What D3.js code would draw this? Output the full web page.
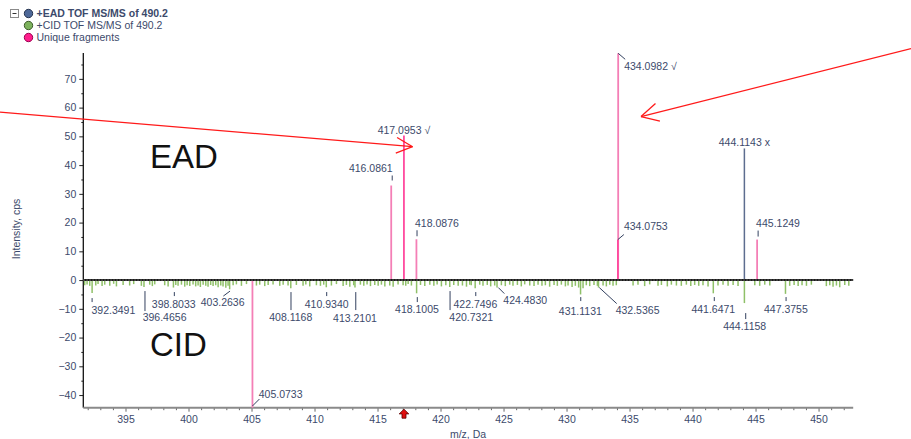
<!DOCTYPE html>
<html>
<head>
<meta charset="utf-8">
<script src="https://cdn.jsdelivr.net/npm/d3@7"></script>
<style>
  body { margin: 0; background: #fff; }
  svg { display: block; }
  text { font-family: "Liberation Sans", Arial, sans-serif; }
</style>
</head>
<body>
<svg id="chart" width="911" height="439"></svg>
<script>
// ---- Spectrum data: [m/z, intensity (cps)] ----
// EAD fragments present only in EAD (drawn upward)
const eadUniqueLight = [[416.0861, 32.9], [418.0876, 14.2], [434.0982, 78.9], [445.1249, 14.1]];
const eadUniqueDeep = [[417.0953, 50.3], [434.0753, 14.1]];
// EAD fragment shared with CID
const eadCommon = [[444.1143, 45.8]];
// CID unique fragment (drawn downward)
const cidUnique = [[405.0733, -44.4]];
// CID spectrum peaks (drawn downward)
const cidPeaks = [
  [391.76,-1.8],[391.95,-1.5],[392.16,-2.0],[392.3491,-4.5],[392.64,-1.9],[392.82,-1.4],[393.14,-2.1],[393.35,-1.6],
  [393.75,-2.0],[394.06,-1.3],[394.28,-2.2],[394.81,-1.7],[395.33,-1.9],[395.65,-1.4],[396.26,-2.0],[396.4656,-2.4],
  [396.92,-1.6],[397.13,-2.1],[397.32,-1.5],[398.11,-1.8],[398.38,-2.2],[398.8033,-2.6],[398.99,-1.7],[399.17,-2.0],
  [399.44,-1.6],[399.70,-2.3],[399.89,-1.8],[400.10,-2.1],[400.36,-1.5],[400.57,-2.2],[400.76,-1.9],[400.94,-2.4],
  [401.16,-1.6],[401.37,-2.0],[401.55,-2.3],[401.76,-1.7],[401.95,-2.1],[402.16,-1.8],[402.35,-2.5],[402.56,-1.9],
  [402.74,-2.2],[402.96,-2.7],[403.14,-2.0],[403.2636,-3.2],[403.54,-1.8],[403.80,-1.5],[404.20,-2.0],[404.60,-1.4],
  [405.39,-1.9],[405.65,-1.6],[406.05,-2.1],[406.32,-1.7],[406.71,-1.5],[407.24,-2.0],[407.51,-1.6],[407.90,-1.9],
  [408.1168,-2.8],[408.56,-1.7],[409.09,-2.0],[409.31,-1.5],[409.62,-2.2],[410.15,-1.8],[410.47,-2.0],[410.73,-1.6],
  [410.9340,-2.5],[411.34,-1.9],[411.74,-1.4],[412.27,-2.1],[412.53,-1.7],[412.80,-2.3],[413.11,-1.8],[413.2101,-2.6],
  [413.64,-1.6],[413.91,-2.0],[414.17,-1.5],[414.44,-2.1],[414.78,-1.7],[415.05,-2.0],[415.31,-1.6],[415.58,-2.2],
  [415.97,-1.9],[416.24,-2.3],[416.63,-1.5],[417.03,-1.8],[417.24,-2.0],[417.43,-1.4],[417.69,-1.9],[418.1005,-4.6],
  [418.41,-1.7],[418.75,-2.1],[419.15,-1.6],[419.47,-2.0],[419.73,-1.5],[420.07,-2.2],[420.42,-1.8],[420.7321,-2.4],
  [421.05,-1.7],[421.40,-2.0],[421.74,-1.9],[422.06,-2.3],[422.32,-1.6],[422.44,-1.8],[422.7496,-2.8],[423.11,-1.6],
  [423.37,-2.0],[423.71,-1.7],[423.98,-2.2],[424.30,-1.9],[424.4830,-2.6],[424.83,-1.8],[425.14,-2.1],[425.49,-1.6],
  [425.75,-2.0],[426.10,-1.7],[426.41,-2.2],[426.68,-1.5],[427.08,-1.9],[427.42,-2.1],[427.74,-1.6],[428.05,-2.0],
  [428.32,-1.8],[428.66,-2.3],[429.01,-1.7],[429.27,-2.0],[429.59,-1.6],[429.91,-2.2],[430.12,-1.9],[430.44,-2.4],
  [430.70,-2.0],[430.96,-2.6],[431.1131,-5.0],[431.31,-2.8],[431.57,-1.8],[431.84,-2.1],[432.18,-1.7],[432.45,-2.0],
  [432.5365,-2.6],[432.90,-1.9],[433.16,-2.2],[433.43,-1.6],[433.69,-2.0],[433.95,-1.8],[435.28,-1.9],[435.67,-1.6],
  [436.20,-2.1],[436.60,-1.5],[437.26,-2.0],[437.53,-1.7],[438.00,-2.2],[438.32,-1.6],[438.72,-1.9],[439.11,-2.0],
  [439.51,-1.6],[439.86,-2.1],[440.17,-1.7],[440.49,-2.0],[440.83,-1.8],[441.23,-2.2],[441.6471,-4.6],[442.02,-1.9],
  [442.42,-1.6],[442.82,-2.0],[443.22,-1.7],[443.61,-2.1],[444.1158,-8.0],[444.94,-1.8],[445.33,-2.0],[445.73,-1.6],
  [446.13,-1.9],[447.3755,-4.8],[447.71,-2.0],[448.06,-1.7],[448.38,-2.1],[448.69,-1.8],[449.04,-2.0],[449.43,-1.6],
  [450.62,-2.1],[450.89,-1.8],[451.15,-2.3],[451.42,-1.9],[451.68,-2.5],[452.08,-1.7],[452.40,-2.0]
];

// Labelled peaks
const eadLabels = [
  ["416.0861", ""], ["417.0953", " \u221A"], ["418.0876", ""], ["434.0982", " \u221A"],
  ["434.0753", ""], ["444.1143", " x"], ["445.1249", ""]
];
const cidLabels = [
  "392.3491", "396.4656", "398.8033", "403.2636", "405.0733", "408.1168", "410.9340", "413.2101",
  "418.1005", "420.7321", "422.7496", "424.4830", "431.1131", "432.5365", "441.6471", "444.1158", "447.3755"
];

// Axis ticks
const xTicks = [395, 400, 405, 410, 415, 420, 425, 430, 435, 440, 445, 450];
const yTicks = [-40, -30, -20, -10, 0, 10, 20, 30, 40, 50, 60, 70];

const legendItems = ["+EAD TOF MS/MS of 490.2", "+CID TOF MS/MS of 490.2", "Unique fragments"];

// ---- Layout ----
const svg = d3.select("#chart");
const x = d3.scaleLinear().domain([391.65, 452.75]).range([83.3, 853.2]);
const y = d3.scaleLinear().domain([-44.4, 79]).range([407.7, 53]);
const y0 = y(0);

const ink = "#3c4a6b";
const green = "#8fc068";
const pinkLight = "#f47fb6";
const pinkDeep = "#ff4a9e";
const slate = "#5d6d8f";
const fs = 10.5;

// Label placement: anchor, dx, label centre offset, leader segment (relative to peak x and ref y)
const labelPlace = {
  "416.0861": { ref: "tip", a: "end", dx: 1.5, cy: -17.5, seg: [1, -10, 1, -5] },
  "417.0953": { ref: "tip", a: "middle", dx: 0, cy: -5.5 },
  "418.0876": { ref: "tip", a: "start", dx: -1.4, cy: -16, seg: [0.6, -9, 0.6, -3] },
  "434.0982": { ref: "tip", a: "start", dx: 6, cy: 13, seg: [0, 0, 7, 6] },
  "434.0753": { ref: "tip", a: "start", dx: 6, cy: -13, seg: [0, 0, 6, -5] },
  "444.1143": { ref: "tip", a: "middle", dx: 0, cy: -6.5 },
  "445.1249": { ref: "tip", a: "start", dx: -1, cy: -16, seg: [1, -9, 1, -3] },
  "392.3491": { ref: "base", a: "start", dx: -0.6, cy: 30.2, seg: [0, 18, 0, 22] },
  "396.4656": { ref: "base", a: "start", dx: -1.3, cy: 37.5, seg: [1, 11, 1, 31] },
  "398.8033": { ref: "base", a: "middle", dx: 0.3, cy: 24.2, seg: [0.9, 12, 0.9, 16] },
  "403.2636": { ref: "base", a: "middle", dx: -7, cy: 21.9, seg: [-6.3, 16, 0.4, 11] },
  "405.0733": { ref: "tip", a: "start", dx: 6.3, cy: -13.4, seg: [0, -1.7, 7, -8.7] },
  "408.1168": { ref: "base", a: "middle", dx: 0, cy: 37.5, seg: [0.2, 12, 0.2, 30] },
  "410.9340": { ref: "base", a: "middle", dx: 0.4, cy: 24.2, seg: [0.4, 12, 0.4, 16] },
  "413.2101": { ref: "base", a: "middle", dx: 0, cy: 38.5, seg: [0.8, 12, 0.8, 30] },
  "418.1005": { ref: "base", a: "middle", dx: 0.4, cy: 29.5, seg: [0.7, 17, 0.7, 22] },
  "420.7321": { ref: "base", a: "start", dx: -0.4, cy: 37.5, seg: [0.3, 11, 0.3, 30] },
  "422.7496": { ref: "base", a: "middle", dx: 0.2, cy: 24.2, seg: [0.6, 12, 0.6, 16] },
  "424.4830": { ref: "base", a: "start", dx: 6.3, cy: 20.2, seg: [1.3, 7.5, 7.3, 13.5] },
  "431.1131": { ref: "base", a: "middle", dx: -0.2, cy: 31.2, seg: [0.2, 17, 0.2, 21] },
  "432.5365": { ref: "base", a: "start", dx: 17.2, cy: 30.2, seg: [0.8, 7.5, 18.2, 23.5] },
  "441.6471": { ref: "base", a: "middle", dx: 0, cy: 29.5, seg: [1, 17, 1, 21] },
  "444.1158": { ref: "base", a: "middle", dx: 0.3, cy: 46.2, seg: [1.3, 33, 1.3, 39] },
  "447.3755": { ref: "base", a: "middle", dx: 0.4, cy: 29.5, seg: [0.6, 17, 0.6, 21] }
};

// ---- Axes ----
const gy = svg.append("g").attr("transform", `translate(${x.range()[0]},0)`);
gy.call(d3.axisLeft(y).tickValues(yTicks).tickSize(4).tickPadding(3).tickFormat(d3.format("d")));
gy.call(g => g.select(".domain").remove());
gy.selectAll(".tick line").attr("stroke", "#222");
gy.selectAll(".tick text").attr("fill", ink).style("font-size", fs + "px").attr("font-family", null);
const gyMinor = svg.append("g").attr("transform", `translate(${x.range()[0]},0)`);
gyMinor.call(d3.axisLeft(y).tickValues(d3.range(-35, 80, 10)).tickSize(2).tickFormat(""));
gyMinor.select(".domain").remove();
gyMinor.selectAll(".tick line").attr("stroke", "#222");
svg.append("line").attr("x1", x.range()[0]).attr("x2", x.range()[0])
  .attr("y1", y.range()[1]).attr("y2", y.range()[0]).attr("stroke", "#111").attr("stroke-width", 1.3);

const gx = svg.append("g").attr("transform", `translate(0,${y.range()[0]})`);
gx.call(d3.axisBottom(x).tickValues(xTicks).tickSize(4).tickPadding(3.8).tickFormat(d3.format("d")));
gx.select(".domain").remove();
gx.selectAll(".tick line").attr("stroke", "#666");
gx.selectAll(".tick text").attr("fill", ink).style("font-size", fs + "px").attr("font-family", null);
const gxMinor = svg.append("g").attr("transform", `translate(0,${y.range()[0]})`);
gxMinor.call(d3.axisBottom(x).tickValues(d3.range(392, 453, 1).filter(v => v % 5 !== 0)).tickSize(2.5).tickFormat(""));
gxMinor.select(".domain").remove();
gxMinor.selectAll(".tick line").attr("stroke", "#666");
svg.append("line").attr("x1", x.range()[0]).attr("x2", x.range()[1])
  .attr("y1", y.range()[0]).attr("y2", y.range()[0]).attr("stroke", "#8a8a8a").attr("stroke-width", 2);

svg.append("text").attr("transform", "translate(20,229) rotate(-90)")
  .attr("text-anchor", "middle").attr("fill", ink).style("font-size", fs + "px").text("Intensity, cps");
svg.append("text").attr("x", 468).attr("y", 437.5).attr("text-anchor", "middle")
  .attr("fill", ink).style("font-size", fs + "px").text("m/z, Da");

// ---- Peaks ----
function sticks(data, color, width) {
  svg.append("g").selectAll("line").data(data).join("line")
    .attr("x1", d => x(d[0])).attr("x2", d => x(d[0]))
    .attr("y1", y0).attr("y2", d => y(d[1]))
    .attr("stroke", color).attr("stroke-width", width);
}
sticks(cidPeaks, green, 1.5);
sticks(cidUnique, pinkLight, 1.8);
sticks(eadUniqueLight, pinkLight, 1.8);
sticks(eadUniqueDeep, pinkDeep, 1.8);
sticks(eadCommon, slate, 1.5);

// zero baseline
svg.append("line").attr("x1", x.range()[0]).attr("x2", x.range()[1])
  .attr("y1", y0).attr("y2", y0).attr("stroke", "#1a1a1a").attr("stroke-width", 2);
svg.append("line").attr("x1", x.range()[0]).attr("x2", x.range()[1])
  .attr("y1", y0).attr("y2", y0).attr("stroke", "#9a9a9a").attr("stroke-width", 0.7)
  .attr("stroke-dasharray", "1.5,1.5");

// ---- Peak labels ----
const allPeaks = new Map();
[...eadUniqueLight, ...eadUniqueDeep, ...eadCommon, ...cidUnique, ...cidPeaks]
  .forEach(d => allPeaks.set(d[0].toFixed(4), d));

const labelG = svg.append("g");
function placeLabel(key, suffix) {
  const d = allPeaks.get(key);
  const p = labelPlace[key];
  const px = x(d[0]);
  const ry = p.ref === "tip" ? y(d[1]) : y0;
  if (p.seg) {
    labelG.append("line")
      .attr("x1", px + p.seg[0]).attr("y1", ry + p.seg[1])
      .attr("x2", px + p.seg[2]).attr("y2", ry + p.seg[3])
      .attr("stroke", "#33415f").attr("stroke-width", 1);
  }
  labelG.append("text").attr("fill", ink).style("font-size", fs + "px")
    .attr("text-anchor", p.a).attr("x", px + p.dx)
    .attr("y", ry + p.cy + 3.8).text(key + suffix);
}
eadLabels.forEach(([k, s]) => placeLabel(k, s));
cidLabels.forEach(k => placeLabel(k, ""));

// ---- Spectrum annotations ----
svg.append("text").attr("x", 150).attr("y", 168).attr("fill", "#111").style("font-size", "33px").text("EAD");
svg.append("text").attr("x", 150).attr("y", 356).attr("fill", "#111").style("font-size", "33px").text("CID");

// red arrows: [tail m/z, tail cps, tip m/z, tip cps], arm half-angle, arm length
const arrows = [
  { from: [385.04, 58.4], to: [417.78, 46.4], ang: 26, len: 18 },
  { from: [457.34, 80.5], to: [435.91, 56.9], ang: 28, len: 19.5 }
];
arrows.forEach(a => {
  const x1 = x(a.from[0]), y1 = y(a.from[1]), x2 = x(a.to[0]), y2 = y(a.to[1]);
  const back = Math.atan2(y1 - y2, x1 - x2);
  const g = svg.append("g").attr("stroke", "#ff1a1a").attr("stroke-width", 1.3).attr("fill", "none");
  g.append("line").attr("x1", x1).attr("y1", y1).attr("x2", x2).attr("y2", y2);
  [-1, 1].forEach(s => {
    const th = back + s * a.ang * Math.PI / 180;
    g.append("line").attr("x1", x2).attr("y1", y2)
      .attr("x2", x2 + a.len * Math.cos(th)).attr("y2", y2 + a.len * Math.sin(th));
  });
});

// precursor marker on the m/z axis
const mx = x(417.1), my = y.range()[0];
svg.append("path")
  .attr("d", `M${mx},${my + 1.5} L${mx + 4.8},${my + 6.2} L${mx + 2},${my + 6.2} L${mx + 2},${my + 10.5} L${mx - 2},${my + 10.5} L${mx - 2},${my + 6.2} L${mx - 4.8},${my + 6.2} Z`)
  .attr("fill", "#e01010").attr("stroke", "#5a0000").attr("stroke-width", 0.8);

// ---- Legend ----
const lg = svg.append("g");
lg.append("rect").attr("x", 10.5).attr("y", 9.5).attr("width", 8).attr("height", 8)
  .attr("fill", "#fff").attr("stroke", "#8a8a8a").attr("stroke-width", 1);
lg.append("line").attr("x1", 12.5).attr("x2", 16.5).attr("y1", 13.5).attr("y2", 13.5)
  .attr("stroke", "#333").attr("stroke-width", 1);
const legendFill = ["#4e6898", "#7db25d", "#ff1e8c"];
const legendStroke = ["#26344f", "#3e5a2b", "#9a0050"];
legendItems.forEach((s, i) => {
  const cy = 13.5 + i * 12;
  lg.append("circle").attr("cx", 28.5).attr("cy", cy).attr("r", 4.2)
    .attr("fill", legendFill[i]).attr("stroke", legendStroke[i]).attr("stroke-width", 1);
  lg.append("text").attr("x", 36.5).attr("y", cy + 3.8).attr("fill", ink)
    .style("font-size", fs + "px").style("font-weight", i === 0 ? "bold" : "normal").text(s);
});
</script>
</body>
</html>
